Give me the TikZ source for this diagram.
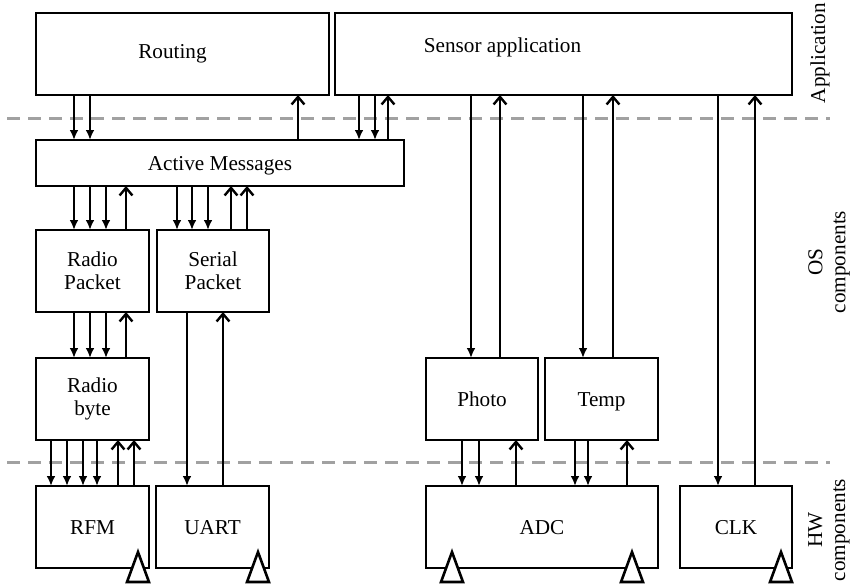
\documentclass[tikz,border=0pt]{standalone}
\usepackage{fontspec}
\setmainfont{Liberation Serif}
\usetikzlibrary{arrows.meta, positioning}
\tikzset{
  box/.style={draw, line width=1.3pt, inner sep=0pt, outer sep=0pt, minimum height=41pt, align=center},
  oneline/.style={text height=7pt, text depth=0pt},
  dnarr/.style={-{Latex[length=5pt,width=4.4pt]}, line width=1.2pt},
  uparr/.style={-{Straight Barb[length=3.8pt,width=6.4pt]}, line width=1.2pt},
  sep/.style={black!37, line width=1.5pt, dash pattern=on 6.5pt off 4pt},
  tri/.style={draw, fill=white, line width=1.3pt, line join=miter},
}
\newcommand{\clktri}[2]{\path[tri] (#1) ++(#2,14) -- ++(22,0) -- ++(-11,-30) -- cycle;}

\begin{document}
\begin{tikzpicture}[x=0.5pt, y=-0.5pt, every node/.style={font=\fontsize{10.6}{11.5}\selectfont}]
  \useasboundingbox (0,0) rectangle (851,586);
  \draw[sep] (7,118) -- (830,118);
  \draw[sep] (7,462) -- (830,462);
  % application layer
  \node[box, minimum width=146.5pt, anchor=north west,
        label={[xshift=-5pt]center:Routing}] (routing) at (36,13) {};
  \node[box, minimum width=228.5pt, right=3pt of routing,
        label={[shift={(-61,-7)}]center:Sensor application}] (sensor) {};
  % OS components
  \node[box, oneline, minimum width=184pt, minimum height=23pt,
        below=22.5pt of routing.south west, anchor=north west] (am) {Active Messages};
  \node[box, minimum width=56.5pt, below=22pt of am.south west, anchor=north west] (rpkt) {Radio\\Packet};
  \node[box, minimum width=56pt, right=4pt of rpkt] (spkt) {Serial\\Packet};
  \node[box, minimum width=56.5pt, below=23pt of rpkt] (rbyte) {Radio\\byte};
  \node[box, oneline, minimum width=56pt, right=138.5pt of rbyte] (photo) {Photo};
  \node[box, oneline, minimum width=56.5pt, right=3.5pt of photo] (temp) {Temp};
  % HW components
  \node[box, oneline, minimum width=56.5pt, below=23pt of rbyte] (rfm) {RFM};
  \node[box, oneline, minimum width=56.5pt, right=3.5pt of rfm] (uart) {UART};
  \node[box, oneline, minimum width=116pt, below=23pt of photo.south west, anchor=north west] (adc) {ADC};
  \node[box, oneline, minimum width=56pt, right=11pt of adc] (clk) {CLK};
  % connectors
  \foreach \x in {74,90} \draw[dnarr] (routing.south -| \x,0) -- (am.north -| \x,0);
  \draw[uparr] (am.north -| 298,0) -- (routing.south -| 298,0);
  \foreach \x in {359,375} \draw[dnarr] (sensor.south -| \x,0) -- (am.north -| \x,0);
  \draw[uparr] (am.north -| 388,0) -- (sensor.south -| 388,0);
  \foreach \x in {74,90,106} \draw[dnarr] (am.south -| \x,0) -- (rpkt.north -| \x,0);
  \draw[uparr] (rpkt.north -| 126,0) -- (am.south -| 126,0);
  \foreach \x in {177,192,208} \draw[dnarr] (am.south -| \x,0) -- (spkt.north -| \x,0);
  \foreach \x in {231,247} \draw[uparr] (spkt.north -| \x,0) -- (am.south -| \x,0);
  \foreach \x in {74,90,106} \draw[dnarr] (rpkt.south -| \x,0) -- (rbyte.north -| \x,0);
  \draw[uparr] (rbyte.north -| 126,0) -- (rpkt.south -| 126,0);
  \foreach \x in {51,67,83,97} \draw[dnarr] (rbyte.south -| \x,0) -- (rfm.north -| \x,0);
  \foreach \x in {118,134} \draw[uparr] (rfm.north -| \x,0) -- (rbyte.south -| \x,0);
  \draw[dnarr] (spkt.south -| 187,0) -- (uart.north -| 187,0);
  \draw[uparr] (uart.north -| 223,0) -- (spkt.south -| 223,0);
  \draw[dnarr] (sensor.south -| 471,0) -- (photo.north -| 471,0);
  \draw[uparr] (photo.north -| 500,0) -- (sensor.south -| 500,0);
  \draw[dnarr] (sensor.south -| 583,0) -- (temp.north -| 583,0);
  \draw[uparr] (temp.north -| 613,0) -- (sensor.south -| 613,0);
  \draw[dnarr] (sensor.south -| 718,0) -- (clk.north -| 718,0);
  \draw[uparr] (clk.north -| 755,0) -- (sensor.south -| 755,0);
  \foreach \x in {462,479} \draw[dnarr] (photo.south -| \x,0) -- (adc.north -| \x,0);
  \draw[uparr] (adc.north -| 516,0) -- (photo.south -| 516,0);
  \foreach \x in {575,588} \draw[dnarr] (temp.south -| \x,0) -- (adc.north -| \x,0);
  \draw[uparr] (adc.north -| 627,0) -- (temp.south -| 627,0);
  % clock inputs
  \clktri{rfm.south east}{-22}
  \clktri{uart.south east}{-22}
  \clktri{adc.south west}{15}
  \clktri{adc.south east}{-37}
  \clktri{clk.south east}{-22}
  % layer labels
  \node[rotate=90] (lapp) at (820,53) {Application};
  \node[rotate=90, align=center] (los) at (829,262) {OS\\components};
  \node[rotate=90, align=center] (lhw) at (829,530) {HW\\components};
\end{tikzpicture}
\end{document}
